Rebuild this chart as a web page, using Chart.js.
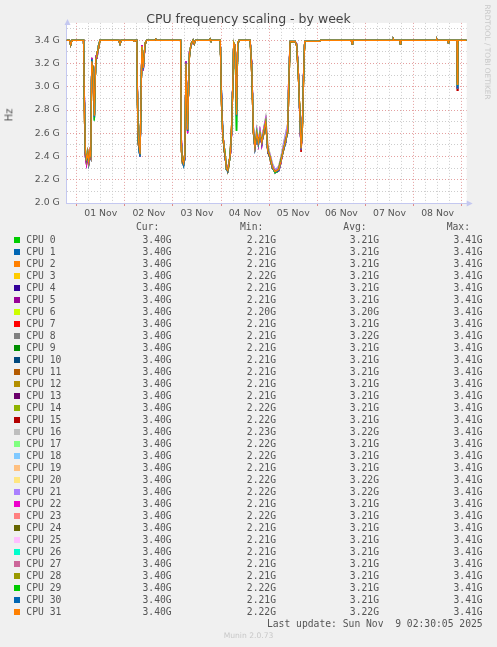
<!DOCTYPE html>
<html><head><meta charset="utf-8">
<script src="https://cdn.jsdelivr.net/npm/chart.js@4.4.1/dist/chart.umd.min.js"></script>
<style>
html,body{margin:0;padding:0;background:#f0f0f0;width:497px;height:647px;overflow:hidden;}
#wrap{position:relative;width:497px;height:647px;}
canvas{position:absolute;left:0;top:0;}
.t{position:absolute;white-space:pre;color:#555;}
.mono{font-family:"DejaVu Sans Mono",monospace;font-size:9.7px;line-height:12px;}
.sw{position:absolute;width:6px;height:6px;}
</style></head><body><div id="wrap"><canvas id="c" width="497" height="647" style="width:497px;height:647px"></canvas></div>
<script>
// ---- data (hours from 01 Nov 00:00, values in GHz) ----
const hours = [
-5,-3.6,-3.0,-2.4,
3.4,3.9,4.3,4.9,5.5,6.0,6.5,7.0,7.5,8.2,8.8,9.5,10.2,10.9,11.6,
21.0,21.6,22.2,28.2,28.6,29.0,
30.0,30.5,31.0,31.6,32.5,33.2,34.1,34.9,
39.0,39.4,39.8,
51.8,52.2,52.7,53.3,53.9,54.5,55.3,56.2,57.0,58.0,
58.6,59.2,66.2,66.5,66.8,
71.6,72.2,72.8,73.4,74.0,74.6,75.3,76.0,76.6,77.2,77.8,78.3,79.0,79.7,80.3,81.0,
86.5,87.3,88.1,88.9,89.8,90.6,91.4,92.3,93.1,94.3,95.3,96.4,97.6,98.9,100.0,100.8,101.9,103.0,104.2,105.2,105.7,106.4,
108.9,109.7,110.5,111.4,111.9,112.5,113.2,113.7,
121.0,121.5,137.0,137.3,137.6,157.8,158.0,158.3,161.1,161.4,161.7,179.3,179.5,179.8,185.0,185.3,185.6,189.6,189.8,190.1,194.5
];

const profileA = [
3.40,3.40,3.36,3.40,
3.40,2.80,2.45,2.38,2.42,2.35,2.44,2.40,3.22,3.12,2.75,3.24,3.28,3.35,3.40,
3.40,3.37,3.40,3.40,3.39,3.40,
3.40,2.62,2.50,2.42,3.35,3.16,3.38,3.40,
3.40,3.41,3.40,
3.40,2.50,2.37,2.34,2.40,3.20,2.63,3.28,3.36,3.40,
3.37,3.40,3.40,3.41,3.40,
3.40,2.90,2.60,2.50,2.42,2.30,2.28,2.35,2.42,2.60,3.00,3.38,3.35,2.76,3.38,3.40,
3.40,3.17,2.63,2.48,2.60,2.52,2.60,2.52,2.60,2.70,2.45,2.40,2.31,2.27,2.28,2.29,2.36,2.46,2.53,2.63,3.00,3.39,
3.39,3.36,3.14,2.70,2.47,2.63,3.14,3.39,
3.39,3.40,3.40,3.37,3.40,3.40,3.41,3.40,3.40,3.37,3.40,3.40,3.41,3.40,3.40,3.38,3.40,3.40,3.02,3.40,3.40
];
const profileB = [
3.40,3.40,3.36,3.40,
3.40,2.70,2.42,2.36,2.44,2.37,2.41,2.45,3.10,3.18,2.82,3.20,3.30,3.33,3.40,
3.40,3.37,3.40,3.40,3.39,3.40,
3.40,2.55,2.47,2.44,3.30,3.20,3.36,3.40,
3.40,3.41,3.40,
3.40,2.45,2.35,2.36,2.42,3.10,2.68,3.25,3.37,3.40,
3.37,3.40,3.40,3.41,3.40,
3.40,2.85,2.62,2.47,2.40,2.32,2.27,2.33,2.45,2.65,2.95,3.36,3.33,2.80,3.36,3.40,
3.40,3.10,2.60,2.50,2.58,2.55,2.57,2.55,2.58,2.66,2.47,2.38,2.30,2.28,2.27,2.30,2.38,2.44,2.55,2.60,2.90,3.38,
3.39,3.35,3.10,2.75,2.50,2.60,3.10,3.39,
3.39,3.40,3.40,3.37,3.40,3.40,3.41,3.40,3.40,3.37,3.40,3.40,3.41,3.40,3.40,3.38,3.40,3.40,3.04,3.40,3.40
];
const profileC = [
3.40,3.40,3.36,3.40,
3.40,2.85,2.40,2.33,2.40,2.33,2.46,2.38,3.25,3.08,2.72,3.26,3.25,3.36,3.40,
3.40,3.37,3.40,3.40,3.39,3.40,
3.40,2.65,2.52,2.40,3.36,3.14,3.37,3.40,
3.40,3.41,3.40,
3.40,2.55,2.36,2.33,2.39,3.22,2.60,3.30,3.35,3.40,
3.37,3.40,3.40,3.41,3.40,
3.40,2.92,2.58,2.52,2.41,2.29,2.29,2.36,2.40,2.58,3.02,3.37,3.36,2.74,3.37,3.40,
3.40,3.20,2.65,2.46,2.62,2.50,2.62,2.50,2.62,2.72,2.44,2.41,2.32,2.26,2.29,2.28,2.35,2.47,2.52,2.64,3.05,3.39,
3.39,3.37,3.16,2.66,2.46,2.65,3.16,3.39,
3.39,3.40,3.40,3.37,3.40,3.40,3.41,3.40,3.40,3.37,3.40,3.40,3.41,3.40,3.40,3.38,3.40,3.40,3.00,3.40,3.40
];
const profileD = [
3.40,3.40,3.36,3.40,
3.40,2.75,2.47,2.40,2.43,2.38,2.43,2.42,3.18,3.14,2.78,3.22,3.29,3.34,3.40,
3.40,3.37,3.40,3.40,3.39,3.40,
3.40,2.60,2.49,2.43,3.33,3.18,3.38,3.40,
3.40,3.41,3.40,
3.40,2.48,2.38,2.35,2.41,3.16,2.65,3.27,3.36,3.40,
3.37,3.40,3.40,3.41,3.40,
3.40,2.88,2.61,2.51,2.43,2.31,2.29,2.34,2.43,2.62,2.98,3.38,3.34,2.78,3.38,3.40,
3.40,3.15,2.66,2.52,2.64,2.54,2.63,2.55,2.63,2.74,2.50,2.42,2.34,2.29,2.30,2.32,2.40,2.50,2.60,2.68,3.02,3.39,
3.39,3.36,3.12,2.72,2.49,2.62,3.12,3.39,
3.39,3.40,3.40,3.37,3.40,3.40,3.41,3.40,3.40,3.37,3.40,3.40,3.41,3.40,3.40,3.38,3.40,3.40,3.03,3.40,3.40
];
const profileE = [
3.40,3.40,3.36,3.40,
3.40,2.78,2.44,2.39,2.41,2.36,2.45,2.41,3.20,3.10,2.76,3.23,3.27,3.35,3.40,
3.40,3.37,3.40,3.40,3.39,3.40,
3.40,2.63,2.51,2.43,3.34,3.17,3.38,3.40,
3.40,3.41,3.40,
3.40,2.52,2.38,2.35,2.41,3.18,2.64,3.29,3.36,3.40,
3.37,3.40,3.40,3.41,3.40,
3.40,2.88,2.59,2.49,2.43,2.31,2.29,2.36,2.43,2.61,2.99,3.38,3.35,2.77,3.38,3.40,
3.40,3.16,2.64,2.49,2.61,2.53,2.61,2.53,2.61,2.71,2.46,2.41,2.32,2.28,2.29,2.30,2.37,2.47,2.54,2.64,3.01,3.39,
3.39,3.36,3.13,2.69,2.48,2.63,3.13,3.39,
3.39,3.40,3.40,3.37,3.40,3.40,3.41,3.40,3.40,3.37,3.40,3.40,3.41,3.40,3.40,3.38,3.40,3.40,3.02,3.40,3.40
];
const profileF = [
3.40,3.40,3.36,3.40,
3.40,2.82,2.43,2.37,2.41,2.34,2.42,2.39,3.24,3.11,2.74,3.25,3.28,3.35,3.40,
3.40,3.37,3.40,3.40,3.39,3.40,
3.40,2.58,2.46,2.40,3.32,3.15,3.37,3.40,
3.40,3.41,3.40,
3.40,2.52,2.36,2.32,2.38,3.21,2.62,3.27,3.36,3.40,
3.37,3.40,3.40,3.41,3.40,
3.40,2.95,2.63,2.48,2.40,2.30,2.27,2.35,2.41,2.59,3.01,3.37,3.35,2.75,3.37,3.40,
3.40,3.18,2.62,2.47,2.59,2.51,2.59,2.51,2.59,2.69,2.44,2.39,2.30,2.27,2.27,2.28,2.36,2.45,2.52,2.62,2.98,3.39,
3.39,3.36,3.15,2.68,2.46,2.64,3.15,3.39,
3.39,3.40,3.40,3.37,3.40,3.40,3.41,3.40,3.40,3.37,3.40,3.40,3.41,3.40,3.40,3.38,3.40,3.40,2.99,3.40,3.40
];
const profileG = [
3.40,3.40,3.36,3.40,
3.40,2.80,2.46,2.37,2.40,2.36,2.43,2.41,3.23,3.13,2.71,3.24,3.27,3.36,3.40,
3.40,3.37,3.40,3.40,3.39,3.40,
3.40,2.60,2.48,2.41,3.34,3.16,3.38,3.40,
3.40,3.41,3.40,
3.40,2.50,2.37,2.33,2.41,3.19,2.62,3.28,3.36,3.40,
3.37,3.40,3.40,3.41,3.40,
3.40,2.89,2.60,2.49,2.44,2.29,2.28,2.34,2.43,2.61,3.00,3.38,3.35,2.62,3.38,3.40,
3.40,3.17,2.63,2.47,2.61,2.51,2.60,2.53,2.60,2.70,2.45,2.40,2.31,2.26,2.27,2.29,2.37,2.46,2.53,2.62,3.00,3.39,
3.39,3.36,3.14,2.70,2.48,2.63,3.14,3.39,
3.39,3.40,3.40,3.37,3.40,3.40,3.41,3.40,3.40,3.37,3.40,3.40,3.41,3.40,3.40,3.38,3.40,3.40,3.01,3.40,3.40
];
const profileH = [
3.40,3.40,3.36,3.40,
3.40,2.79,2.44,2.36,2.42,2.36,2.44,2.37,3.21,3.13,2.74,3.22,3.28,3.34,3.40,
3.40,3.37,3.40,3.40,3.39,3.40,
3.40,2.61,2.49,2.41,3.35,3.16,3.37,3.40,
3.40,3.41,3.40,
3.40,2.49,2.36,2.34,2.39,3.19,2.62,3.28,3.36,3.40,
3.37,3.40,3.40,3.41,3.40,
3.40,2.90,2.61,2.48,2.42,2.31,2.28,2.35,2.41,2.60,3.00,3.38,3.35,2.76,3.38,3.40,
3.40,3.17,2.62,2.46,2.60,2.52,2.60,2.52,2.60,2.70,2.43,2.40,2.31,2.27,2.28,2.29,2.36,2.46,2.53,2.63,3.00,3.39,
3.39,3.36,3.14,2.70,2.44,2.63,3.14,3.39,
3.39,3.40,3.40,3.37,3.40,3.40,3.41,3.40,3.40,3.37,3.40,3.40,3.41,3.40,3.40,3.38,3.40,3.40,2.97,3.40,3.40
];
const profiles = [profileA, profileB, profileC, profileD, profileE, profileF, profileG, profileH];
// which typed profile each CPU follows
const cpuProfile = [6,5,0,1,5,2,6,7,4,6,5,0,1,2,1,7,4,3,5,0,3,3,2,1,1,6,6,1,1,6,5,0];

const cpuNames = ['CPU 0','CPU 1','CPU 2','CPU 3','CPU 4','CPU 5','CPU 6','CPU 7','CPU 8','CPU 9','CPU 10','CPU 11','CPU 12','CPU 13','CPU 14','CPU 15','CPU 16','CPU 17','CPU 18','CPU 19','CPU 20','CPU 21','CPU 22','CPU 23','CPU 24','CPU 25','CPU 26','CPU 27','CPU 28','CPU 29','CPU 30','CPU 31'];
const cpuColors = ['#00CC00','#0066B3','#FF8000','#FFCC00','#330099','#990099','#CCFF00','#FF0000','#808080','#008F00','#00487D','#B35A00','#B38F00','#6B006B','#8FB300','#B30000','#BEBEBE','#80FF80','#80C9FF','#FFC080','#FFE680','#AA80FF','#EE00CC','#FF8080','#666600','#FFBFFF','#00FFCC','#CC6699','#999900','#00CC00','#0066B3','#FF8000'];
const curVals = ['3.40G','3.40G','3.40G','3.40G','3.40G','3.40G','3.40G','3.40G','3.40G','3.40G','3.40G','3.40G','3.40G','3.40G','3.40G','3.40G','3.40G','3.40G','3.40G','3.40G','3.40G','3.40G','3.40G','3.40G','3.40G','3.40G','3.40G','3.40G','3.40G','3.40G','3.40G','3.40G'];
const minVals = ['2.21G','2.21G','2.21G','2.22G','2.21G','2.21G','2.20G','2.21G','2.21G','2.21G','2.21G','2.21G','2.21G','2.21G','2.22G','2.22G','2.23G','2.22G','2.22G','2.21G','2.22G','2.22G','2.21G','2.22G','2.21G','2.21G','2.21G','2.21G','2.21G','2.22G','2.21G','2.22G'];
const avgVals = ['3.21G','3.21G','3.21G','3.21G','3.21G','3.21G','3.20G','3.21G','3.22G','3.21G','3.21G','3.21G','3.21G','3.21G','3.21G','3.21G','3.22G','3.21G','3.21G','3.21G','3.22G','3.22G','3.21G','3.21G','3.21G','3.21G','3.21G','3.21G','3.21G','3.21G','3.21G','3.22G'];
const maxVals = ['3.41G','3.41G','3.41G','3.41G','3.41G','3.41G','3.41G','3.41G','3.41G','3.41G','3.41G','3.41G','3.41G','3.41G','3.41G','3.41G','3.41G','3.41G','3.41G','3.41G','3.41G','3.41G','3.41G','3.41G','3.41G','3.41G','3.41G','3.41G','3.41G','3.41G','3.41G','3.41G'];

const dayLabels = ['01 Nov','02 Nov','03 Nov','04 Nov','05 Nov','06 Nov','07 Nov','08 Nov'];
const xTickHours = [0,6,12,18,24,30,36,42,48,54,60,66,72,78,84,90,96,102,108,114,120,126,132,138,144,150,156,162,168,174,180,186,192];
const yTickVals = [2.0,2.1,2.2,2.3,2.4,2.5,2.6,2.7,2.8,2.9,3.0,3.1,3.2,3.3,3.4,3.5];

// ---- chart ----
const majorGrid = 'rgba(225,150,150,0.9)';
const minorGrid = 'rgba(200,200,200,0.9)';
const axisColor = '#c4c8f0';
const tickFont = {family:'DejaVu Sans', size:9.3};

const datasets = cpuNames.map((name, i) => ({
  label: name,
  data: hours.map((h, k) => ({x: h, y: profiles[cpuProfile[i]][k]})),
  borderColor: cpuColors[i],
  borderWidth: 1.25,
  pointRadius: 0,
  fill: false,
  tension: 0,
  order: 31 - i
}));

const frame = {
  id: 'frame',
  beforeDraw(chart) {
    const {ctx, chartArea: a} = chart;
    ctx.save();
    ctx.fillStyle = '#ffffff';
    ctx.fillRect(a.left, a.top, a.right - a.left, a.bottom - a.top);
    ctx.restore();
  },
  afterDraw(chart) {
    const {ctx, chartArea: a} = chart;
    const L = Math.round(a.left) + 0.5, B = Math.round(a.bottom) + 0.5;
    ctx.save();
    ctx.fillStyle = axisColor;
    ctx.beginPath();
    ctx.moveTo(L - 3, a.top + 2); ctx.lineTo(L, a.top - 4); ctx.lineTo(L + 3, a.top + 2); ctx.closePath(); ctx.fill();
    ctx.beginPath();
    ctx.moveTo(a.right, B - 3); ctx.lineTo(a.right + 6, B); ctx.lineTo(a.right, B + 3); ctx.closePath(); ctx.fill();
    ctx.restore();
  }
};

new Chart(document.getElementById('c'), {
  type: 'line',
  data: {datasets},
  plugins: [frame],
  options: {
    responsive: false,
    animation: false,
    events: [],
    layout: {padding: {left: 0, top: 22.9, right: 30.3, bottom: 424}},
    plugins: {legend: {display: false}, tooltip: {enabled: false}, title: {display: false}},
    scales: {
      x: {
        type: 'linear', min: -5, max: 194.5,
        afterBuildTicks: s => { s.ticks = xTickHours.map(v => ({value: v})); },
        afterFit: s => { s.height = 20; },
        grid: {
          color: c => (c.tick && c.tick.value % 24 === 0) ? majorGrid : minorGrid,
          lineWidth: 1, drawTicks: true, tickLength: 3,
          tickColor: c => (c.tick && c.tick.value % 24 === 0) ? '#e08a8a' : 'rgba(0,0,0,0)'
        },
        border: {color: axisColor, dash: [1, 2]},
        ticks: {
          autoSkip: false, maxRotation: 0, padding: 2, color: '#555', font: tickFont,
          callback: v => (v % 24 === 12) ? dayLabels[(v - 12) / 24] : ''
        }
      },
      y: {
        type: 'linear', min: 2.0, max: 3.55,
        afterBuildTicks: s => { s.ticks = yTickVals.map(v => ({value: v})); },
        afterFit: s => { s.width = 66.7; },
        grid: {
          color: c => (c.tick && Math.round(c.tick.value * 10) % 2 === 0) ? majorGrid : minorGrid,
          lineWidth: 1, drawTicks: false
        },
        border: {color: axisColor, dash: [1, 2]},
        ticks: {
          autoSkip: false, padding: 7, color: '#555', font: tickFont,
          callback: v => (Math.round(v * 10) % 2 === 0) ? v.toFixed(1) + ' G' : ''
        }
      }
    }
  }
});

// ---- text around the graph ----
const wrap = document.getElementById('wrap');
function addText(txt, cls, style) {
  const d = document.createElement('div');
  d.className = 't ' + cls;
  d.textContent = txt;
  Object.assign(d.style, style);
  wrap.appendChild(d);
  return d;
}
addText('CPU frequency scaling - by week', '', {left: '0px', width: '497px', textAlign: 'center', top: '11px', lineHeight: '16px', fontFamily: 'DejaVu Sans', fontSize: '12.5px', color: '#444'});
addText('Hz', '', {left: '3px', top: '108px', lineHeight: '14px', fontFamily: 'DejaVu Sans', fontSize: '10px', transform: 'rotate(-90deg)', transformOrigin: 'center'});
addText('RRDTOOL / TOBI OETIKER', '', {left: '437px', top: '47px', width: '100px', textAlign: 'center', lineHeight: '10px', fontFamily: 'DejaVu Sans', fontSize: '7.4px', color: '#c8c8c8', transform: 'rotate(90deg)', transformOrigin: 'center'});

const headers = ['Cur:', 'Min:', 'Avg:', 'Max:'];
const headRight = [337.7, 233.7, 130.3, 27];
const valRight = [325.3, 221, 118, 14.3];
headers.forEach((h, j) => addText(h, 'mono', {right: headRight[j] + 'px', top: '221.3px', textAlign: 'right'}));
const cols = [curVals, minVals, avgVals, maxVals];
cpuNames.forEach((n, i) => {
  const top = 233.9 + 12 * i;
  const sw = document.createElement('div');
  sw.className = 'sw';
  sw.style.left = '14px';
  sw.style.top = (236.7 + 12 * i) + 'px';
  sw.style.background = cpuColors[i];
  wrap.appendChild(sw);
  addText(n, 'mono', {left: '26.3px', top: top + 'px'});
  cols.forEach((arr, j) => addText(arr[i], 'mono', {right: valRight[j] + 'px', top: top + 'px', textAlign: 'right'}));
});
addText('Last update: Sun Nov  9 02:30:05 2025', 'mono', {right: '14.3px', top: '617.6px', textAlign: 'right'});
addText('Munin 2.0.73', '', {left: '0px', width: '497px', textAlign: 'center', top: '631px', lineHeight: '10px', fontFamily: 'DejaVu Sans', fontSize: '7.6px', color: '#c8c8c8'});
</script></body></html>
